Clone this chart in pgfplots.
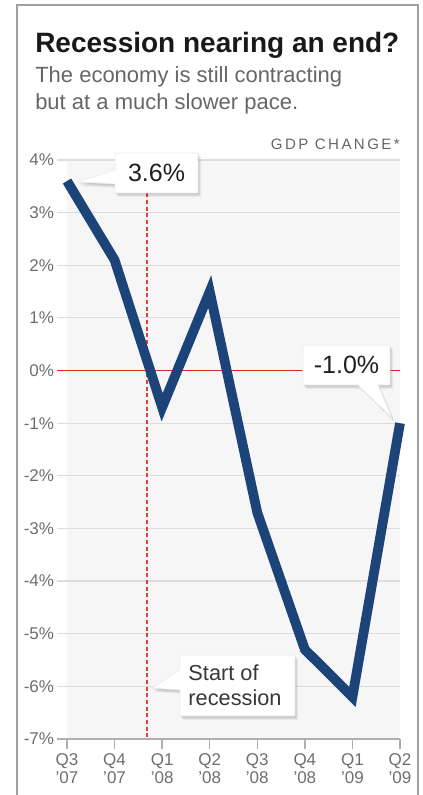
\documentclass[border=0pt]{standalone}
\usepackage{pgfplots}
\pgfplotsset{compat=1.18}
\usepackage{fontspec}
\setmainfont{Liberation Sans}
\definecolor{navy}{HTML}{1C4479}
\definecolor{bgc}{HTML}{F6F6F6}
\definecolor{gridc}{HTML}{DDDDDD}
\definecolor{axc}{HTML}{B0B0B0}
\definecolor{lblc}{HTML}{6E6E6E}
\definecolor{subc}{HTML}{666666}
\definecolor{redc}{HTML}{E02A24}
\definecolor{framec}{HTML}{A0A0A0}
\begin{document}
\begin{tikzpicture}[x=0.75pt,y=0.75pt]
\useasboundingbox (0,0) rectangle (422,795);
% frame
\draw[framec, line width=2.2pt] (17,-5) -- (17,790) -- (418,790) -- (418,-5);
% titles
\node[anchor=base west, inner sep=0pt, font=\fontsize{21}{25}\selectfont\bfseries, text=black!90] at (35,742) {Recession nearing an end?};
\node[anchor=base west, inner sep=0pt, font=\fontsize{16.5}{20}\selectfont, text=subc] at (35,712) {The economy is still contracting};
\node[anchor=base west, inner sep=0pt, font=\fontsize{16.5}{20}\selectfont, text=subc] at (35,685) {but at a much slower pace.};
\node[anchor=base east, inner sep=0pt, font=\fontsize{11.3}{13}\selectfont\addfontfeature{LetterSpace=16}, text=subc] at (400,645) {GDP CHANGE*};
\begin{axis}[
  at={(50.25pt,42pt)}, anchor=south west,
  width=249.75pt, height=434.25pt, scale only axis,
  xmin=0, xmax=7, ymin=-7, ymax=4,
  clip=false,
  axis background/.style={fill=bgc},
  axis line style={draw=none},
  xtick={0,1,2,3,4,5,6,7},
  xticklabels={Q3\\’07,Q4\\’07,Q1\\’08,Q2\\’08,Q3\\’08,Q4\\’08,Q1\\’09,Q2\\’09},
  ytick={-7,-6,-5,-4,-3,-2,-1,0,1,2,3,4},
  yticklabels={-7\%,-6\%,-5\%,-4\%,-3\%,-2\%,-1\%,0\%,1\%,2\%,3\%,4\%},
  xtick pos=bottom, ytick pos=left,
  tick align=outside, major tick length=7.5pt,
  every x tick/.style={draw=axc, line width=1pt},
  every y tick/.style={draw=gridc, line width=0.9pt},
  ymajorgrids, grid style={draw=gridc, line width=0.9pt},
  xticklabel style={align=center, text=lblc, font=\fontsize{12.75}{13.5}\selectfont},
  yticklabel style={text=lblc, inner sep=2pt, font=\fontsize{12.75}{14}\selectfont},
]
\draw[axc, line width=1pt] ([xshift=-7.5pt]rel axis cs:0,0) -- (rel axis cs:1,0);
\draw[redc, line width=1.1pt] ([xshift=-7.5pt]axis cs:0,0) -- (axis cs:7,0);
\draw[redc!90, line width=0.9pt, dash pattern=on 3pt off 2pt] (axis cs:1.68,4) -- (axis cs:1.68,-7);
\addplot[navy, line width=7.3pt, line join=miter, line cap=butt, mark=none] coordinates {
  (0,3.6) (1,2.1) (2,-0.7) (3,1.5) (4,-2.7) (5,-5.3) (6,-6.2) (7,-1.0)
};
\end{axis}
% callouts: shadow layers then box
\foreach \dx/\dy/\op in {3/-4/0.05, 2/-3/0.07, 1/-1.5/0.09} {
  \fill[black, opacity=\op, shift={(\dx,\dy)}] (115,642) -- (198,642) -- (198,602) -- (115,602) -- (115,611) -- (78,613) -- (115,625) -- cycle;
  \fill[black, opacity=\op, shift={(\dx,\dy)}] (303,450) -- (390,450) -- (390,410) -- (378,410) -- (392,377) -- (358,410) -- (303,410) -- cycle;
  \fill[black, opacity=\op, shift={(\dx,\dy)}] (180,140) -- (295,140) -- (295,79) -- (180,79) -- (180,105) -- (152,107) -- (180,125) -- cycle;
}
\filldraw[white, draw=black!8] (115,642) -- (198,642) -- (198,602) -- (115,602) -- (115,611) -- (78,613) -- (115,625) -- cycle;
\filldraw[white, draw=black!8] (303,450) -- (390,450) -- (390,410) -- (378,410) -- (392,377) -- (358,410) -- (303,410) -- cycle;
\filldraw[white, draw=black!8] (180,140) -- (295,140) -- (295,79) -- (180,79) -- (180,105) -- (152,107) -- (180,125) -- cycle;
\node[font=\fontsize{18.75}{20}\selectfont, text=black!88] at (156.5,622) {3.6\%};
\node[font=\fontsize{18.75}{20}\selectfont, text=black!88] at (346.5,430) {-1.0\%};
\node[align=left, font=\fontsize{16.3}{18.75}\selectfont, text=black!78] at (235,109.5) {Start of\\recession};
\end{tikzpicture}
\end{document}
